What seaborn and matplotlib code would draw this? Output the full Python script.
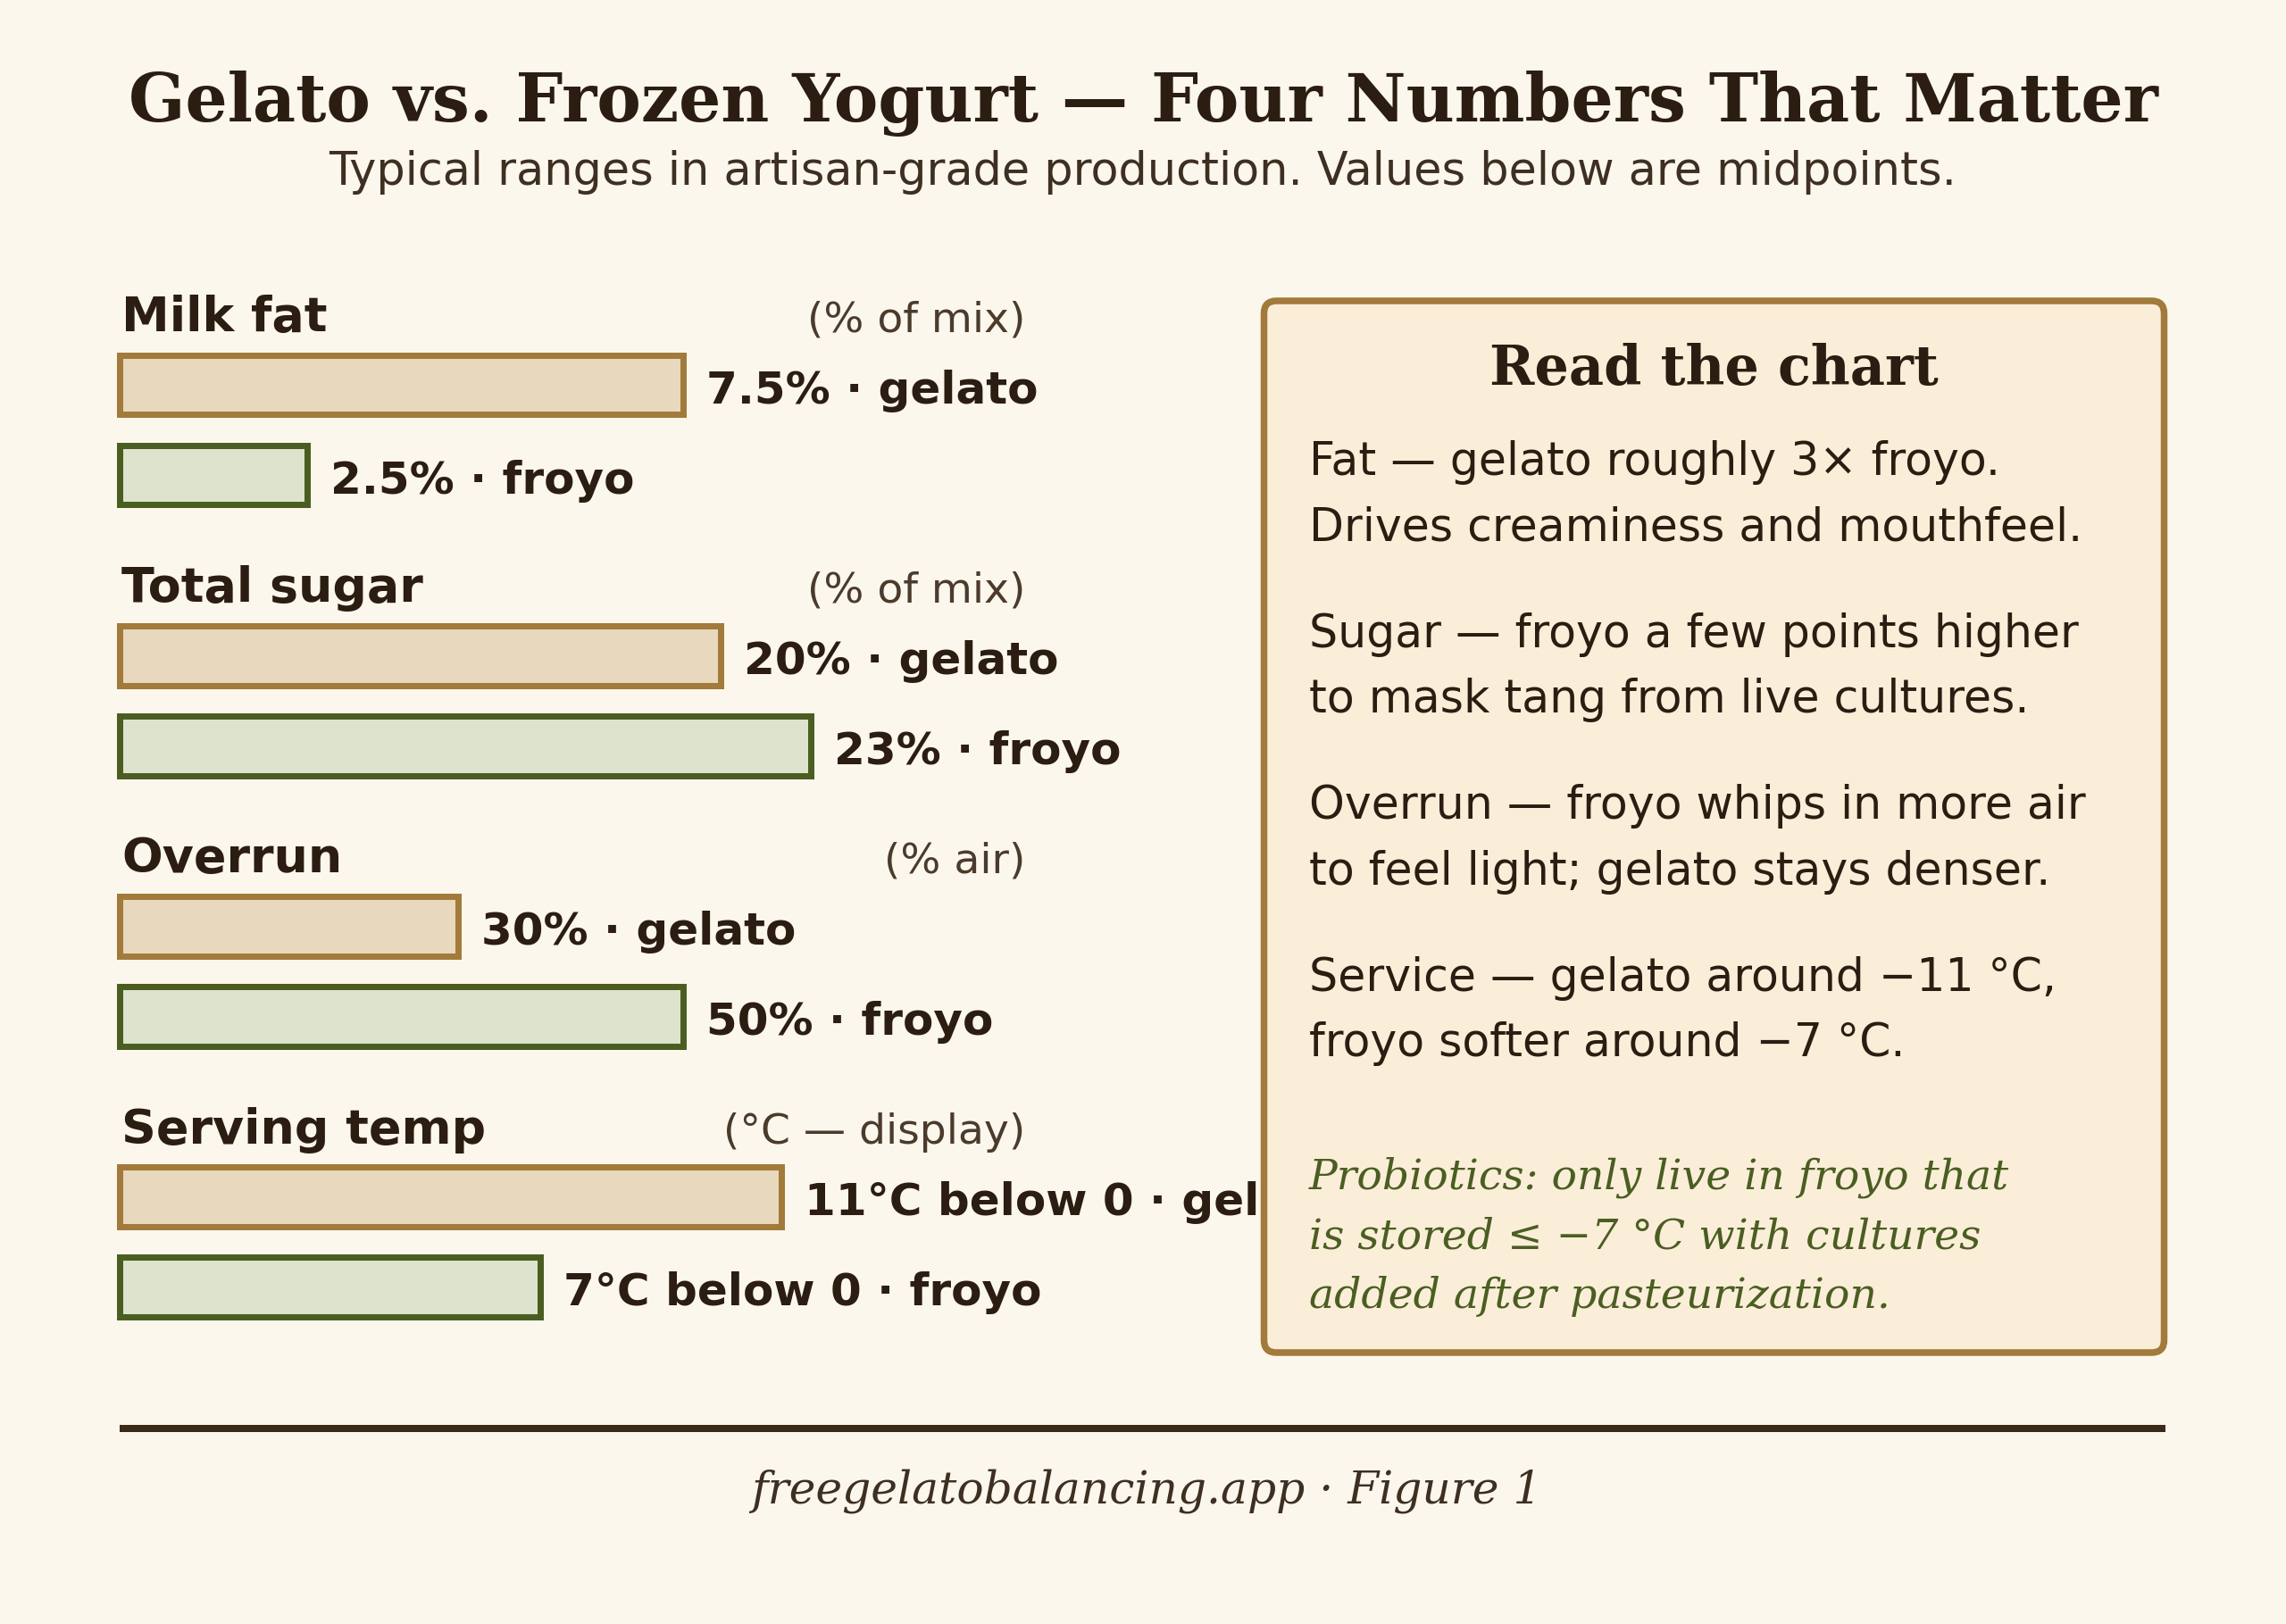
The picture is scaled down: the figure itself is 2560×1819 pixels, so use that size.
import matplotlib
matplotlib.use("Agg")
import matplotlib.pyplot as plt
from matplotlib.patches import FancyBboxPatch
import pandas as pd
import seaborn as sns

# canvas in pixels
W, H = 2560, 1819
DPI = 200

def pt(px):
    return px * 72 / DPI

# data
metrics = ["Milk fat", "Total sugar", "Overrun", "Serving temp"]
units = ["(% of mix)", "(% of mix)", "(% air)", "(°C — display)"]
kinds = ["gelato", "froyo"]
gelato = [7.5, 20, 30, 11]
froyo = [2.5, 23, 50, 7]
scale_max = [12, 30, 80, 15]
value_fmt = ["{}%", "{}%", "{}%", "{}°C below 0"]

notes = [
    ["Fat — gelato roughly 3× froyo.", "Drives creaminess and mouthfeel."],
    ["Sugar — froyo a few points higher", "to mask tang from live cultures."],
    ["Overrun — froyo whips in more air", "to feel light; gelato stays denser."],
    ["Service — gelato around −11 °C,", "froyo softer around −7 °C."],
]
probiotic = ["Probiotics: only live in froyo that",
             "is stored ≤ −7 °C with cultures",
             "added after pasteurization."]

# colours
BG = "#fcf7ec"
INK = "#2b1d11"
SOFT = "#4a3b2c"
GOLD = "#a27a3b"
GOLD_FILL = "#e8d8be"
GREEN = "#4b5e22"
GREEN_FILL = "#dde3cc"
BOX_FILL = "#faeed9"

plt.rcParams["font.family"] = ["DejaVu Sans"]

fig = plt.figure(figsize=(W / DPI, H / DPI), dpi=DPI, facecolor=BG)

# bar groups
row0 = 431
row_step = 303.2
track_left, track_w = 134, 1010
for g, name in enumerate(metrics):
    c0 = row0 + row_step * g
    top = c0 - 50.5
    ax = fig.add_axes([track_left / W, 1 - (top + 202) / H, track_w / W, 202 / H])
    ax.set_facecolor("none")
    df = pd.DataFrame({"kind": kinds, "value": [gelato[g], froyo[g]]})
    sns.barplot(data=df, x="value", y="kind", hue="kind", orient="h",
                palette=[GOLD_FILL, GREEN_FILL], saturation=1, width=0.663,
                legend=False, ax=ax, linewidth=pt(7))
    for patch, ec in zip(ax.patches, [GOLD, GREEN]):
        patch.set_edgecolor(ec)
        patch.set_clip_on(False)
    ax.set_xlim(0, scale_max[g])
    ax.set_ylim(1.5, -0.5)
    ax.axis("off")
    for i, (v, k) in enumerate(zip(df["value"], kinds)):
        ax.annotate(value_fmt[g].format(v) + " · " + k, xy=(v, i),
                    xytext=(pt(26), -pt(20.7)), textcoords="offset points",
                    ha="left", va="baseline", fontsize=18, fontweight="bold",
                    color=INK, annotation_clip=False)

# overlay in pixel coordinates for text and frame
ov = fig.add_axes([0, 0, 1, 1], zorder=5)
ov.set_xlim(0, W)
ov.set_ylim(H, 0)
ov.axis("off")

ov.text(W / 2, 136, "Gelato vs. Frozen Yogurt — Four Numbers That Matter",
        ha="center", va="baseline", fontsize=26.8, fontweight="bold",
        family="DejaVu Serif", color=INK)
ov.text(W / 2, 206.7, "Typical ranges in artisan-grade production. Values below are midpoints.",
        ha="center", va="baseline", fontsize=18.3, color="#3d2f22")

for g, (name, unit) in enumerate(zip(metrics, units)):
    base = row0 + row_step * g - 60
    ov.text(136, base, name, ha="left", va="baseline", fontsize=19.4,
            fontweight="bold", color=INK)
    ov.text(1148, base, unit, ha="right", va="baseline", fontsize=17,
            color=SOFT)

# side panel
box = FancyBboxPatch((1415.5, 337), 1008, 1178,
                     boxstyle="round,pad=0,rounding_size=14",
                     facecolor=BOX_FILL, edgecolor=GOLD, linewidth=pt(7.5))
ov.add_patch(box)
ov.text(1919.5, 431, "Read the chart", ha="center", va="baseline",
        fontsize=21.8, fontweight="bold", family="DejaVu Serif", color=INK)

y = 531.7
for para in notes:
    for line in para:
        ov.text(1466, y, line, ha="left", va="baseline", fontsize=18.2, color=INK)
        y += 73.3
    y += 46.2

for j, line in enumerate(probiotic):
    ov.text(1466, 1331.7 + 66.4 * j, line, ha="left", va="baseline",
            fontsize=17, style="italic", family="DejaVu Serif", color=GREEN)

# footer
ov.plot([134, 2425], [1600, 1600], color="#3b2a1a", linewidth=pt(8),
        solid_capstyle="butt")
ov.text(W / 2 + 4, 1683.3, "freegelatobalancing.app · Figure 1", ha="center",
        va="baseline", fontsize=18.1, style="italic", family="DejaVu Serif",
        color="#3d2f22")

fig.savefig("out.png", dpi=DPI, facecolor=BG)
